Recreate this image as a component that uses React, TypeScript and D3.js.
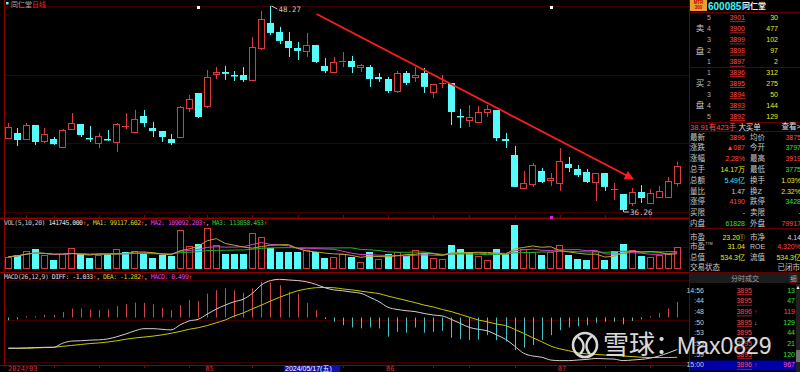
import React, { useRef, useEffect } from "react";
import * as d3 from "d3";

const WIDTH = 800;
const HEIGHT = 372;

// daily bars 2024/03/28 .. 2024/07/18
const opens = [
  40.57, 40.87, 40.52, 41.33, 40.40, 40.52, 40.05, 41.10, 41.39, 40.57,
  40.28, 40.52, 40.34, 41.22, 40.92, 41.86, 41.16, 40.98, 40.52, 40.63,
  42.32, 43.20, 42.44, 44.31, 44.42, 44.25, 44.25, 43.96, 45.82, 47.28,
  46.75, 46.23, 45.82, 45.65, 46.00, 44.77, 44.42, 44.98, 45.06, 44.71,
  44.71, 44.13, 44.01, 43.31, 44.36, 44.13, 44.36, 43.26, 43.72, 43.78,
  41.86, 41.62, 41.51, 42.09, 42.21, 40.52, 39.58, 37.66, 37.89, 38.65,
  38.13, 37.95, 39.06, 38.77, 38.59, 38.01, 38.53, 37.54, 37.31, 36.79,
  37.43, 36.79, 37.13, 37.13, 37.97,
];
const highs = [
  41.45, 41.16, 41.45, 41.33, 41.16, 40.63, 41.10, 42.03, 41.39, 41.27,
  40.87, 41.04, 41.45, 42.03, 42.21, 42.21, 41.51, 40.98, 40.81, 42.44,
  43.08, 43.20, 44.54, 44.71, 44.77, 44.48, 44.71, 46.46, 47.98, 48.27,
  47.05, 46.75, 46.17, 46.70, 46.00, 45.24, 45.30, 45.59, 45.36, 44.89,
  44.83, 44.36, 44.13, 44.48, 44.48, 44.71, 44.66, 43.72, 44.25, 43.78,
  42.27, 42.50, 42.44, 42.50, 42.21, 40.87, 40.11, 38.65, 39.12, 38.83,
  38.53, 39.99, 39.47, 39.00, 38.77, 38.53, 38.53, 37.95, 37.31, 37.66,
  37.83, 37.60, 37.78, 38.30, 39.19,
];
const lows = [
  40.57, 40.11, 40.52, 40.17, 40.28, 40.17, 40.05, 41.10, 40.63, 40.34,
  39.99, 40.40, 39.76, 41.10, 40.92, 41.22, 40.63, 40.34, 40.17, 40.57,
  42.09, 41.74, 42.32, 44.01, 43.96, 43.90, 43.84, 43.90, 45.70, 46.58,
  46.05, 45.30, 45.12, 45.30, 44.95, 44.36, 44.42, 44.71, 44.36, 44.42,
  43.55, 43.84, 43.20, 43.20, 43.66, 43.84, 43.20, 42.91, 43.49, 41.33,
  41.16, 41.22, 41.51, 41.80, 40.40, 39.99, 37.72, 37.66, 37.72, 37.95,
  37.78, 37.49, 38.59, 38.30, 37.95, 36.90, 37.49, 36.96, 36.26, 36.61,
  36.79, 36.73, 37.08, 37.08, 37.75,
];
const closes = [
  41.22, 40.46, 41.33, 40.34, 40.81, 40.22, 41.04, 41.45, 40.75, 40.52,
  40.69, 40.46, 41.39, 41.27, 41.68, 41.45, 40.98, 40.63, 40.28, 42.38,
  42.85, 41.80, 44.13, 44.42, 44.31, 44.19, 43.96, 45.88, 47.51, 46.70,
  46.23, 45.82, 45.65, 46.00, 45.01, 44.48, 45.01, 45.04, 44.71, 44.83,
  44.01, 44.01, 43.31, 44.36, 43.78, 44.25, 43.55, 43.72, 43.78, 42.09,
  41.80, 41.80, 42.09, 42.27, 40.57, 40.40, 37.72, 37.95, 39.00, 38.01,
  38.24, 39.23, 38.83, 38.42, 38.01, 38.53, 37.72, 37.60, 36.38, 37.43,
  37.08, 37.37, 37.49, 38.07, 38.96,
];
const volumes = [
  80700, 91900, 120300, 131000, 91500, 59000, 95600, 140200, 95900, 69600,
  95400, 96100, 135000, 113500, 120000, 95800, 74200, 91900, 85300, 256000,
  153000, 164000, 271000, 157500, 95700, 96300, 102000, 234000, 212000, 135200,
  113500, 109400, 108800, 124700, 109000, 74200, 80700, 102000, 80500, 47900,
  113500, 65600, 95800, 113200, 85300, 124700, 107000, 74400, 65600, 161000,
  131000, 109000, 85300, 59000, 135000, 95800, 289000, 131200, 109000, 91900,
  113500, 157500, 91700, 65600, 59200, 118000, 59000, 118300, 168000, 124700,
  85300, 80700, 91900, 102000, 141745,
];
// doji days where the volume colour is the opposite of the candle
const volFlip = [13, 41, 51, 67];

const diffLine = [
  -0.99, -0.99, -0.98, -0.97, -0.96, -0.96, -0.83, -0.76, -0.75, -0.73,
  -0.72, -0.69, -0.62, -0.53, -0.43, -0.36, -0.36, -0.38, -0.40, -0.24,
  -0.11, -0.06, 0.11, 0.27, 0.40, 0.51, 0.59, 0.78, 1.05, 1.19,
  1.23, 1.21, 1.19, 1.15, 1.07, 0.96, 0.89, 0.86, 0.82, 0.78,
  0.65, 0.51, 0.33, 0.26, 0.22, 0.19, 0.13, 0.08, 0.05, -0.06,
  -0.19, -0.32, -0.38, -0.43, -0.56, -0.70, -0.92, -1.15, -1.24, -1.28,
  -1.37, -1.39, -1.39, -1.37, -1.35, -1.32, -1.33, -1.34, -1.39, -1.37,
  -1.35, -1.31, -1.24, -1.14, -1.033,
];
const deaLine = [
  -0.99, -0.99, -0.99, -0.98, -0.97, -0.96, -0.93, -0.90, -0.87, -0.84,
  -0.82, -0.79, -0.75, -0.70, -0.66, -0.63, -0.60, -0.56, -0.51, -0.45,
  -0.38, -0.33, -0.26, -0.17, -0.08, 0.05, 0.15, 0.28, 0.40, 0.53,
  0.65, 0.76, 0.86, 0.92, 0.96, 0.97, 0.96, 0.92, 0.89, 0.85,
  0.81, 0.77, 0.69, 0.62, 0.55, 0.48, 0.40, 0.34, 0.26, 0.19,
  0.10, 0.01, -0.08, -0.14, -0.21, -0.26, -0.38, -0.51, -0.65, -0.78,
  -0.92, -1.01, -1.07, -1.14, -1.17, -1.19, -1.21, -1.22, -1.24, -1.26,
  -1.28, -1.29, -1.29, -1.29, -1.282,
];
const macdBars = [
  -0.09, -0.06, 0.04, 0.04, 0.08, 0.08, 0.18, 0.29, 0.29, 0.26,
  0.24, 0.26, 0.37, 0.43, 0.48, 0.47, 0.42, 0.31, 0.24, 0.40,
  0.56, 0.53, 0.77, 0.88, 0.94, 0.88, 0.80, 0.94, 1.15, 1.13,
  1.04, 0.83, 0.77, 0.47, 0.24, -0.05, -0.14, -0.25, -0.32, -0.35,
  -0.32, -0.35, -0.62, -0.46, -0.49, -0.32, -0.49, -0.46, -0.43, -0.65,
  -0.70, -0.73, -0.71, -0.57, -0.73, -0.78, -1.05, -0.97, -0.89, -0.73,
  -0.57, -0.41, -0.32, -0.28, -0.25, -0.17, -0.14, -0.14, -0.22, -0.11,
  -0.06, 0.04, 0.15, 0.29, 0.499,
];

const monthTicks = [0, 22, 42, 61];
const monthLabels = ["2024/03", "05", "06", "07"];
const weekTicks = [2, 5, 10, 15, 20, 22, 27, 32, 37, 42, 47, 51, 56, 61, 66, 71];
const cursorIndex = 31;
const cursorLabel = "2024/05/17(五)";
const eventMarks = [21, 60];
// hand-drawn trend arrow: [bar index, price]
const trendStart = [34.1, 47.8];
const trendEnd = [69.1, 38.2];

const volHeader = [
  ["VOL(5,10,20) ", "#c8c8c8"], ["141745.000", "#e0e0e0"], ["↑", "#ff3030"], [", ", "#c8c8c8"],
  ["MA1: 99117.602", "#d8d020"], ["↑", "#ff3030"], [", ", "#c8c8c8"],
  ["MA2: 109092.203", "#e040e0"], ["↑", "#ff3030"], [", ", "#c8c8c8"],
  ["MA3: 113858.453", "#30d030"], ["↑", "#ff3030"],
];
const macdHeader = [
  ["MACD(26,12,9) ", "#c8c8c8"], ["DIFF: -1.033", "#e0e0e0"], ["↑", "#ff3030"], [", ", "#c8c8c8"],
  ["DEA: -1.282", "#d8d020"], ["↑", "#ff3030"], [", ", "#c8c8c8"],
  ["MACD: 0.499", "#e040e0"], ["↑", "#ff3030"],
];

// right-hand quote panel
const askPrices = ["3901", "3900", "3899", "3898", "3897"];
const askVols = ["30", "477", "102", "97", "2"];
const bidPrices = ["3896", "3895", "3894", "3893", "3892"];
const bidVols = ["312", "275", "50", "144", "129"];
const statLeft = [
  ["最新", "3896", "r"], ["涨跌", "▲087", "r"], ["涨幅", "2.28%", "r"], ["总手", "14.17万", "y"],
  ["总额", "5.49亿", "c"], ["量比", "1.47", "w"], ["涨停", "4190", "r"], ["买限", "-", "w"], ["内盘", "61828", "g"],
];
const statRight = [
  ["均价", "3875", "r"], ["今开", "3797", "g"], ["最高", "3919", "r"], ["最低", "3775", "g"],
  ["换手", "1.03%", "y"], ["换Z", "2.32%", "y"], ["跌停", "3428", "g"], ["卖限", "-", "w"], ["外盘", "79917", "r"],
];
const tradeTimes = ["14:56", ":44", ":48", ":50", ":53", ":55", ":59", "15:00"];
const tradePrices = ["3895", "3895", "3896", "3895", "3895", "3895", "3895", "3896"];
const tradeDirs = ["", "", "up", "down", "", "", "", "up"];
const tradeVols = ["13", "47", "119", "129", "44", "21", "120", "967"];

const UP = "#d83c3c";
const DOWN = "#54fcfc";
const GRID = "#3c0000";
const AXIS = "#8c0000";
const COLORS = { r: "#ff4848", g: "#30e030", y: "#e8e820", c: "#40e8e8", w: "#d0d0d0" };
const CJK = "'Noto Sans CJK SC', sans-serif";
const PANEL_FONT = "'Liberation Sans', 'Noto Sans CJK SC', sans-serif";
const MONO = "'DejaVu Sans Mono', monospace";

export default function App() {
  const ref = useRef(null);

  useEffect(() => {
    const svg = d3.select(ref.current);
    svg.selectAll("*").remove();
    svg.append("rect").attr("width", WIDTH).attr("height", HEIGHT).attr("fill", "#000");

    const n = closes.length;
    const idx = d3.range(n);
    const x = d3.scaleBand().domain(idx).range([3.8, 681.8]);
    const cx = (i) => x(i) + x.bandwidth() / 2;
    const xf = d3.scaleLinear().domain([0, n - 1]).range([cx(0), cx(n - 1)]);
    const lo = d3.min(lows);
    const hi = d3.max(highs);
    const yPrice = d3.scaleLinear().domain([lo, hi]).range([212, 6]);
    const yVol = d3.scaleLinear().domain([0, 290000]).range([269, 225]);
    const yMacd = d3.scaleLinear().domain([-1.45, 1.45]).range([362.5, 272.5]);
    const crisp = (v) => Math.round(v) + 0.5;
    const right = 689;

    // grid lines
    const grid = svg.append("g").attr("stroke", GRID).attr("stroke-width", 1);
    const priceGrid = d3.range(4).map((k) => lo + (k * (hi - lo)) / 3);
    const hLines = [
      ...priceGrid.map((p) => yPrice(p)),
      yVol(145000),
      280,
      320,
      362,
    ];
    grid.selectAll("line").data(hLines).join("line")
      .attr("x1", 4).attr("x2", right)
      .attr("y1", (d) => crisp(d)).attr("y2", (d) => crisp(d));

    const axis = svg.append("g").attr("stroke", AXIS);
    axis.append("line").attr("x1", 4.5).attr("x2", 4.5).attr("y1", 0).attr("y2", 366);
    [218, 272, 365].forEach((yy) => {
      axis.append("line").attr("x1", 0).attr("x2", right).attr("y1", yy + 0.5).attr("y2", yy + 0.5)
        .attr("stroke-width", yy === 218 ? 2 : 1);
    });
    axis.selectAll(null).data(weekTicks).join("line")
      .attr("x1", (d) => crisp(cx(d))).attr("x2", (d) => crisp(cx(d)))
      .attr("y1", 215).attr("y2", 219);
    axis.selectAll(null).data(weekTicks).join("line")
      .attr("x1", (d) => crisp(cx(d))).attr("x2", (d) => crisp(cx(d)))
      .attr("y1", 365).attr("y2", 368);

    // candles
    const isUp = (i) => closes[i] >= opens[i];
    const candles = svg.append("g");
    idx.forEach((i) => {
      const col = isUp(i) ? UP : DOWN;
      const xc = crisp(cx(i));
      const left = Math.round(cx(i) - 3.5);
      const yt = yPrice(Math.max(opens[i], closes[i]));
      const yb = yPrice(Math.min(opens[i], closes[i]));
      if (isUp(i)) {
        candles.append("line").attr("x1", xc).attr("x2", xc)
          .attr("y1", yPrice(highs[i])).attr("y2", yt).attr("stroke", col);
        candles.append("line").attr("x1", xc).attr("x2", xc)
          .attr("y1", yb).attr("y2", yPrice(lows[i])).attr("stroke", col);
        if (yb - yt < 1.5) {
          candles.append("line").attr("x1", left).attr("x2", left + 7)
            .attr("y1", crisp(yt)).attr("y2", crisp(yt)).attr("stroke", col);
        } else {
          candles.append("rect").attr("x", left + 0.5).attr("y", crisp(yt))
            .attr("width", 6).attr("height", Math.max(1, Math.round(yb - yt)))
            .attr("fill", "#000").attr("stroke", col);
        }
      } else {
        candles.append("line").attr("x1", xc).attr("x2", xc)
          .attr("y1", yPrice(highs[i])).attr("y2", yPrice(lows[i])).attr("stroke", col);
        candles.append("rect").attr("x", left).attr("y", Math.round(yt))
          .attr("width", 7).attr("height", Math.max(1.5, yb - yt)).attr("fill", col);
      }
    });

    // high / low labels
    const hiIdx = highs.indexOf(hi);
    const loIdx = lows.indexOf(lo);
    const lbl = svg.append("g").attr("font-family", MONO).attr("font-size", 7.5).attr("fill", "#c8c8c8");
    lbl.append("line").attr("x1", cx(hiIdx) + 1).attr("y1", yPrice(hi)).attr("x2", cx(hiIdx) + 7)
      .attr("y2", yPrice(hi) + 3).attr("stroke", "#c8c8c8");
    lbl.append("text").attr("x", cx(hiIdx) + 8).attr("y", yPrice(hi) + 5.5).text(hi.toFixed(2));
    lbl.append("line").attr("x1", cx(loIdx) + 1).attr("y1", yPrice(lo)).attr("x2", cx(loIdx) + 6)
      .attr("y2", yPrice(lo)).attr("stroke", "#c8c8c8");
    lbl.append("text").attr("x", cx(loIdx) + 7).attr("y", yPrice(lo) + 3).text(lo.toFixed(2));

    // event markers
    eventMarks.forEach((i) => {
      svg.append("rect").attr("x", Math.round(cx(i)) - 1).attr("y", 6).attr("width", 3).attr("height", 3).attr("fill", "#fff");
    });
    svg.append("rect").attr("x", Math.round(cx(eventMarks[1])) - 1).attr("y", 216).attr("width", 3).attr("height", 3).attr("fill", "#e020e0");

    // trend arrow
    const defs = svg.append("defs");
    defs.append("marker").attr("id", "arrow").attr("viewBox", "0 0 10 10").attr("refX", 9).attr("refY", 5)
      .attr("markerWidth", 11).attr("markerHeight", 9).attr("orient", "auto").attr("markerUnits", "userSpaceOnUse")
      .append("path").attr("d", "M0,0 L10,5 L0,10 z").attr("fill", "#ff1c1c");
    svg.append("line")
      .attr("x1", xf(trendStart[0])).attr("y1", yPrice(trendStart[1]))
      .attr("x2", xf(trendEnd[0])).attr("y2", yPrice(trendEnd[1]))
      .attr("stroke", "#ff1c1c").attr("stroke-width", 1.8).attr("marker-end", "url(#arrow)");

    // volume
    const volUp = (i) => (volFlip.includes(i) ? !isUp(i) : isUp(i));
    const vol = svg.append("g");
    idx.forEach((i) => {
      const left = Math.round(cx(i) - 3.5);
      const top = Math.round(yVol(volumes[i]));
      if (volUp(i)) {
        vol.append("rect").attr("x", left + 0.5).attr("y", top + 0.5).attr("width", 6)
          .attr("height", 269 - top - 1).attr("fill", "none").attr("stroke", UP);
      } else {
        vol.append("rect").attr("x", left).attr("y", top).attr("width", 7)
          .attr("height", 269 - top).attr("fill", DOWN);
      }
    });
    const ma = (k) => volumes.map((_, i) => d3.mean(volumes.slice(Math.max(0, i - k + 1), i + 1)));
    const volLine = d3.line().x((d, i) => cx(i)).y((d) => yVol(d));
    [[20, "#20b020"], [10, "#d040d0"], [5, "#b8a828"]].forEach(([k, c]) => {
      svg.append("path").datum(ma(k)).attr("d", volLine).attr("fill", "none").attr("stroke", c).attr("stroke-width", 1);
    });

    // macd
    const macd = svg.append("g");
    macd.selectAll("line").data(macdBars).join("line")
      .attr("x1", (d, i) => crisp(cx(i))).attr("x2", (d, i) => crisp(cx(i)))
      .attr("y1", yMacd(0)).attr("y2", (d) => yMacd(d))
      .attr("stroke", (d) => (d >= 0 ? "#d04444" : "#40c4c4"));
    const mLine = d3.line().x((d, i) => cx(i)).y((d) => yMacd(d)).curve(d3.curveMonotoneX);
    svg.append("path").datum(deaLine).attr("d", mLine).attr("fill", "none").attr("stroke", "#c8c800");
    svg.append("path").datum(diffLine).attr("d", mLine).attr("fill", "none").attr("stroke", "#d0d0d0");

    // header texts
    const head = (y, parts) => {
      const t = svg.append("text").attr("x", 4).attr("y", y).attr("font-family", MONO)
        .attr("font-size", 6.5).attr("letter-spacing", -0.5).attr("xml:space", "preserve");
      parts.forEach(([s, c]) => t.append("tspan").attr("fill", c).text(s));
    };
    head(225, volHeader);
    head(278.5, macdHeader);

    svg.append("rect").attr("x", 6).attr("y", 2).attr("width", 2.5).attr("height", 2.5).attr("fill", DOWN);
    const title = svg.append("text").attr("x", 11).attr("y", 6.5).attr("font-family", CJK).attr("font-size", 7);
    title.append("tspan").attr("fill", "#a8a8a8").text("同仁堂");
    title.append("tspan").attr("fill", "#e03030").text("日线");

    // date axis
    const dates = svg.append("g").attr("font-family", MONO).attr("font-size", 7).attr("fill", "#d03030");
    monthTicks.forEach((i, k) => {
      dates.append("text").attr("x", k === 0 ? 8 : cx(i) - 2).attr("y", 371).text(monthLabels[k]);
    });
    svg.append("rect").attr("x", x(cursorIndex)).attr("y", 365.5).attr("width", 56).attr("height", 6.5).attr("fill", "#1010b0");
    svg.append("text").attr("x", x(cursorIndex) + 1).attr("y", 371).attr("font-family", PANEL_FONT)
      .attr("font-size", 7).attr("fill", "#fff").text(cursorLabel);

    // ---------- right quote panel ----------
    const p = svg.append("g").attr("font-family", PANEL_FONT);
    const put = (xx, yy, s, fill, size = 7.5, anchor = "start", weight = "normal") =>
      p.append("text").attr("x", xx).attr("y", yy).attr("fill", fill).attr("font-size", size)
        .attr("text-anchor", anchor).attr("font-weight", weight).attr("dominant-baseline", "central").text(s);
    const under = (xx, yy, w) =>
      p.append("line").attr("x1", xx - w).attr("x2", xx).attr("y1", yy + 4.5).attr("y2", yy + 4.5).attr("stroke", "#a02020");

    p.append("line").attr("x1", right + 0.5).attr("x2", right + 0.5).attr("y1", 0).attr("y2", HEIGHT).attr("stroke", "#700000");
    [12, 67, 122, 131, 228, 272].forEach((yy) =>
      p.append("line").attr("x1", right).attr("x2", WIDTH).attr("y1", yy + 0.5).attr("y2", yy + 0.5).attr("stroke", "#600000"));

    p.append("rect").attr("x", 690).attr("y", 0).attr("width", 17).attr("height", 11).attr("fill", "#e8a030");
    put(698.5, 2.5, "MTR", "#c00000", 4.5, "middle", "bold");
    put(698.5, 7.5, "300", "#c00000", 4.5, "middle", "bold");
    put(708, 6, "600085", "#40f4f4", 10, "start", "bold");
    put(742, 6, "同仁堂", "#f0f0f0", 8, "start", "bold");

    put(700, 28, "卖", "#c8c8c8", 8.5, "middle");
    put(700, 51, "盘", "#c8c8c8", 8.5, "middle");
    put(700, 83, "买", "#c8c8c8", 8.5, "middle");
    put(700, 105, "盘", "#c8c8c8", 8.5, "middle");
    askPrices.forEach((s, k) => {
      const yy = 17 + k * 11.2;
      put(709, yy, String(5 - k), "#b0b0b0", 7, "middle");
      put(745, yy, s, COLORS.r, 7, "end");
      under(745, yy, 15);
      put(778, yy, askVols[k], COLORS.y, 7, "end");
    });
    bidPrices.forEach((s, k) => {
      const yy = 72 + k * 11;
      put(709, yy, String(k + 1), "#b0b0b0", 7, "middle");
      put(745, yy, s, COLORS.r, 7, "end");
      under(745, yy, 15);
      put(778, yy, bidVols[k], COLORS.y, 7, "end");
    });

    const bigOrder = put(690, 126.5, "", "#ff5050", 7.5);
    bigOrder.append("tspan").text("38.91有423手 ");
    bigOrder.append("tspan").attr("fill", "#e0e0e0").text("大买单");
    put(801, 126.5, "查看>", "#e0e0e0", 7.5, "end");

    statLeft.forEach(([lab, val, c], k) => {
      const yy = 137 + k * 10.8;
      put(690, yy, lab, "#c8c8c8", 7.5);
      put(745, yy, val, COLORS[c], 7, "end");
      const [lab2, val2, c2] = statRight[k];
      put(750, yy, lab2, "#c8c8c8", 7.5);
      put(801, yy, val2, COLORS[c2], 7, "end");
    });

    put(690, 237, "市盈", "#c8c8c8", 7.5);
    put(740, 237, "23.20", COLORS.y, 7, "end");
    put(745, 237, "①", COLORS.y, 6.5, "end");
    put(750, 237, "市净", "#c8c8c8", 7.5);
    put(801, 237, "4.14", COLORS.w, 7, "end");

    put(690, 246.5, "市盈", "#c8c8c8", 7.5);
    put(705.5, 244, "TTM", "#c8c8c8", 3.5);
    put(745, 246.5, "31.04", COLORS.y, 7, "end");
    put(750, 246.5, "ROE", "#c8c8c8", 7);
    put(801, 246.5, "4.320%", COLORS.r, 7, "end");

    put(690, 257, "总值", "#c8c8c8", 7.5);
    put(745, 257, "534.3亿", COLORS.y, 7, "end");
    put(750, 257, "流值", "#c8c8c8", 7.5);
    put(801, 257, "534.3亿", COLORS.y, 7, "end");

    put(690, 267.5, "交易状态", "#c8c8c8", 7.5);
    put(800, 267.5, "已闭市", "#c8c8c8", 7.5, "end");

    p.append("rect").attr("x", right + 1).attr("y", 273).attr("width", WIDTH - right - 1).attr("height", 10).attr("fill", "#1c1c1c");
    put(745, 278, "分时成交", "#a0a0a0", 7, "middle");
    p.append("rect").attr("x", 789.5).attr("y", 273.5).attr("width", 8).attr("height", 9).attr("fill", "none").attr("stroke", "#800000");
    put(793.5, 278, "细", "#b0b0b0", 6.5, "middle");

    p.append("rect").attr("x", right + 1).attr("y", 360.5).attr("width", 106).attr("height", 10).attr("fill", "#0000a8");
    p.append("rect").attr("x", 796).attr("y", 284).attr("width", 4).attr("height", 88).attr("fill", "#202020");
    p.append("rect").attr("x", 796).attr("y", 350).attr("width", 4).attr("height", 12).attr("fill", "#707070");
    p.append("path").attr("d", "M796.5,289 L798,286 L799.5,289 z").attr("fill", "#fff");

    tradeTimes.forEach((t, k) => {
      const yy = 290 + k * 10.7;
      put(704, yy, t, "#c8c8c8", 7, "end");
      put(752, yy, tradePrices[k], COLORS.r, 7, "end");
      under(752, yy, 15);
      if (tradeDirs[k] === "up") put(754, yy, "↑", "#ff3030", 6.5);
      if (tradeDirs[k] === "down") put(754, yy, "↓", "#30e030", 6.5);
      const vc = k === tradeTimes.length - 1 ? "#ff50c8" : tradeDirs[k] === "up" ? COLORS.r : COLORS.g;
      put(795, yy, tradeVols[k], vc, 7, "end");
    });

    // watermark
    const wm = svg.append("g").attr("opacity", 0.9).attr("fill", "#f0f0f0");
    wm.append("circle").attr("cx", 585).attr("cy", 345).attr("r", 12).attr("fill", "none")
      .attr("stroke", "#f0f0f0").attr("stroke-width", 2.6);
    wm.append("path").attr("d", "M578,337 C585,342 585,349 580,354 M592,336 C585,341 585,349 590,354")
      .attr("fill", "none").attr("stroke", "#f0f0f0").attr("stroke-width", 2.4);
    wm.append("text").attr("x", 603).attr("y", 354).attr("font-family", CJK).attr("font-size", 26).text("雪球：");
    wm.append("text").attr("x", 677).attr("y", 353.5).attr("font-family", "'Liberation Sans', sans-serif")
      .attr("font-size", 23).text("Max0829");
  }, []);

  return (
    <svg
      ref={ref}
      width={WIDTH}
      height={HEIGHT}
      style={{ position: "fixed", left: 0, top: 0, display: "block" }}
    />
  );
}
